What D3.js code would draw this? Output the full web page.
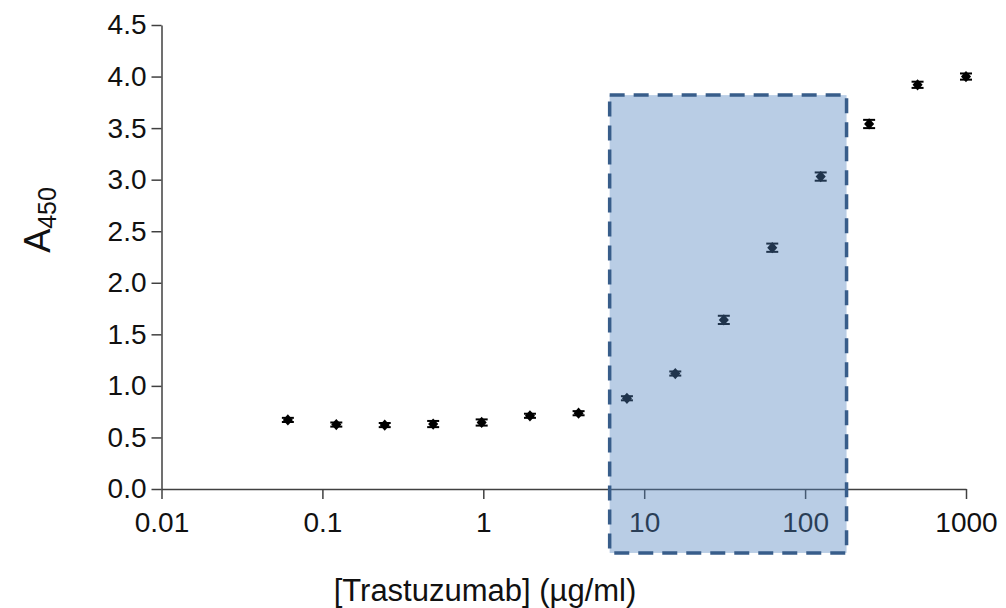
<!DOCTYPE html>
<html>
<head>
<meta charset="utf-8">
<script src="https://cdn.jsdelivr.net/npm/d3@7"></script>
<style>
  body { margin: 0; background: #fff; }
  text { font-family: "Liberation Sans", Arial, sans-serif; fill: #111; }
</style>
</head>
<body>
<div id="chart"></div>
<script>
// concentrations (ug/ml), 2-fold dilution series from 1000
var conc = [0.061, 0.122, 0.244, 0.488, 0.977, 1.95, 3.91, 7.81, 15.6, 31.25, 62.5, 125, 250, 500, 1000];
var a450 = [0.67, 0.625, 0.62, 0.63, 0.645, 0.71, 0.735, 0.88, 1.12, 1.64, 2.34, 3.03, 3.54, 3.92, 4.00];
var err  = [0.02, 0.02, 0.02, 0.03, 0.03, 0.02, 0.02, 0.02, 0.02, 0.04, 0.04, 0.04, 0.04, 0.03, 0.03];

var xTicks = [0.01, 0.1, 1, 10, 100, 1000];
var yTicks = [0, 0.5, 1, 1.5, 2, 2.5, 3, 3.5, 4, 4.5];

// highlighted (linear) range box, in data units
var boxX = [6.1, 181];
var boxY = [-0.62, 3.82];

var width = 1006, height = 608;

var xScale = d3.scaleLog()
    .domain( [0.01, 1000] )
    .range( [161.5, 966] );

var yScale = d3.scaleLinear()
    .domain( [0, 4.5] )
    .range( [489, 25] );

var svg = d3.select( "#chart" )
    .append( "svg" )
    .attr( "width", width )
    .attr( "height", height );

// y axis
var yAxis = d3.axisLeft( yScale )
    .tickValues( yTicks )
    .tickSize( 10 )
    .tickSizeOuter( 0 )
    .tickPadding( 5 )
    .tickFormat( d3.format( ".1f" ) );

svg.append( "g" )
    .attr( "transform", "translate(" + xScale( 0.01 ) + ",0)" )
    .call( yAxis );

// x axis
var xAxis = d3.axisBottom( xScale )
    .tickValues( xTicks )
    .tickSize( 10 )
    .tickSizeOuter( 0 )
    .tickPadding( 13 )
    .tickFormat( d3.format( "~g" ) );

svg.append( "g" )
    .attr( "transform", "translate(0," + yScale( 0 ) + ")" )
    .call( xAxis );

svg.selectAll( ".domain, .tick line" )
    .attr( "stroke", "#404040" )
    .attr( "stroke-width", 1.5 );

svg.selectAll( ".tick text" )
    .style( "font-size", "28px" )
    .style( "fill", "#111" );

// error bars
var caps = 6;
var eb = svg.append( "g" ).attr( "class", "errorbars" );
eb.selectAll( "line.v" )
    .data( conc )
    .enter()
    .append( "line" )
    .attr( "x1", function (d) { return xScale( d ); } )
    .attr( "x2", function (d) { return xScale( d ); } )
    .attr( "y1", function (d, i) { return yScale( a450[i] - err[i] ); } )
    .attr( "y2", function (d, i) { return yScale( a450[i] + err[i] ); } )
    .attr( "stroke", "#000" )
    .attr( "stroke-width", 1.5 );

[1, -1].forEach( function (s) {
    eb.selectAll( "line.c" + s )
        .data( conc )
        .enter()
        .append( "line" )
        .attr( "x1", function (d) { return xScale( d ) - caps; } )
        .attr( "x2", function (d) { return xScale( d ) + caps; } )
        .attr( "y1", function (d, i) { return yScale( a450[i] + s * err[i] ); } )
        .attr( "y2", function (d, i) { return yScale( a450[i] + s * err[i] ); } )
        .attr( "stroke", "#000" )
        .attr( "stroke-width", 2 );
} );

// markers (small diamonds)
svg.selectAll( "path.pt" )
    .data( conc )
    .enter()
    .append( "path" )
    .attr( "class", "pt" )
    .attr( "d", d3.symbol().type( d3.symbolDiamond ).size( 45 ) )
    .attr( "transform", function (d, i) {
        return "translate(" + xScale( d ) + "," + yScale( a450[i] ) + ") scale(1.4,0.9)";
    } )
    .attr( "fill", "#000" );

// highlighted region on top, semi transparent
svg.append( "rect" )
    .attr( "x", xScale( boxX[0] ) )
    .attr( "y", yScale( boxY[1] ) )
    .attr( "width", xScale( boxX[1] ) - xScale( boxX[0] ) )
    .attr( "height", yScale( boxY[0] ) - yScale( boxY[1] ) )
    .attr( "fill", "#4F81BD" )
    .attr( "fill-opacity", 0.4 )
    .attr( "stroke", "#385D8A" )
    .attr( "stroke-width", 3.5 )
    .attr( "stroke-dasharray", "15,9" );

// x axis title
svg.append( "text" )
    .attr( "x", 485 )
    .attr( "y", 601 )
    .style( "text-anchor", "middle" )
    .style( "font-size", "31px" )
    .text( "[Trastuzumab] (\u00b5g/ml)" );

// y axis title A450
var yt = svg.append( "text" )
    .attr( "transform", "translate(50,220) rotate(-90)" )
    .style( "text-anchor", "middle" )
    .style( "font-size", "36px" );
yt.append( "tspan" ).text( "A" );
yt.append( "tspan" )
    .attr( "dy", "0.25em" )
    .style( "font-size", "25px" )
    .text( "450" );
</script>
</body>
</html>
